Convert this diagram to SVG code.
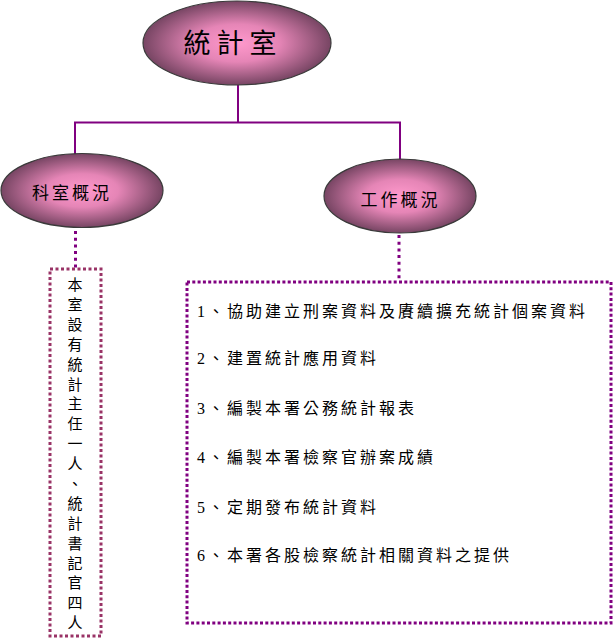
<svg xmlns="http://www.w3.org/2000/svg" width="614" height="639" viewBox="0 0 614 639">
<defs>
<radialGradient id="g" cx="50%" cy="50%" r="50%">
<stop offset="0%" stop-color="#ff99cc"/>
<stop offset="45%" stop-color="#e585b6"/>
<stop offset="100%" stop-color="#774563"/>
</radialGradient>
<style>
.ell{fill:url(#g);stroke:#3a3a3a;stroke-width:1.2}
.t{font-family:"Liberation Serif","Noto Sans CJK TC",serif;fill:#000}
.solid{fill:none;stroke:#800080;stroke-width:2}
.dot{fill:none;stroke:#800080;stroke-width:3;stroke-dasharray:3 3.7}
.box1{fill:none;stroke:#993366;stroke-width:3;stroke-dasharray:3 2.5}
.box2{fill:none;stroke:#800080;stroke-width:3;stroke-dasharray:3 2.3}
.item{font-size:16px;letter-spacing:3px}
</style>
</defs>
<rect width="614" height="639" fill="#fff"/>
<g id="connectors">
<polyline class="solid" points="238,85 238,122.5"/>
<polyline class="solid" points="75,154 75,122.5 400,122.5 400,160"/>
<line class="dot" x1="75.5" y1="231" x2="75.5" y2="268"/>
<line class="dot" x1="399" y1="235" x2="399" y2="281"/>
</g>
<g id="root">
<ellipse class="ell" cx="237" cy="43" rx="94" ry="42"/>
<text class="t" x="233" y="53" font-size="27" letter-spacing="6" text-anchor="middle">統計室</text>
</g>
<g id="left">
<ellipse class="ell" cx="82" cy="190.5" rx="81" ry="37"/>
<text class="t" x="72" y="199" font-size="17" letter-spacing="3" text-anchor="middle">科室概況</text>
</g>
<g id="right">
<ellipse class="ell" cx="400" cy="196" rx="76" ry="37"/>
<text class="t" x="400.5" y="206" font-size="17" letter-spacing="3" text-anchor="middle">工作概況</text>
</g>
<g id="left-box">
<rect class="box1" x="50" y="269" width="51" height="367"/>
<text class="t" font-size="15" text-anchor="middle">
<tspan x="75" y="290">本</tspan><tspan x="75" y="310">室</tspan><tspan x="75" y="330">設</tspan><tspan x="75" y="350">有</tspan><tspan x="75" y="370">統</tspan><tspan x="75" y="390">計</tspan><tspan x="75" y="409">主</tspan><tspan x="75" y="429">任</tspan><tspan x="75" y="449">一</tspan><tspan x="75" y="469">人</tspan><tspan x="75" y="489">、</tspan><tspan x="75" y="509">統</tspan><tspan x="75" y="529">計</tspan><tspan x="75" y="549">書</tspan><tspan x="75" y="569">記</tspan><tspan x="75" y="588">官</tspan><tspan x="75" y="608">四</tspan><tspan x="75" y="628">人</tspan>
</text>
</g>
<g id="right-box">
<rect class="box2" x="187" y="282" width="424" height="341"/>
<text class="t item" x="197" y="317">1、協助建立刑案資料及賡續擴充統計個案資料</text>
<text class="t item" x="197" y="364">2、建置統計應用資料</text>
<text class="t item" x="197" y="414">3、編製本署公務統計報表</text>
<text class="t item" x="197" y="463">4、編製本署檢察官辦案成績</text>
<text class="t item" x="197" y="513">5、定期發布統計資料</text>
<text class="t item" x="197" y="561">6、本署各股檢察統計相關資料之提供</text>
</g>
</svg>
